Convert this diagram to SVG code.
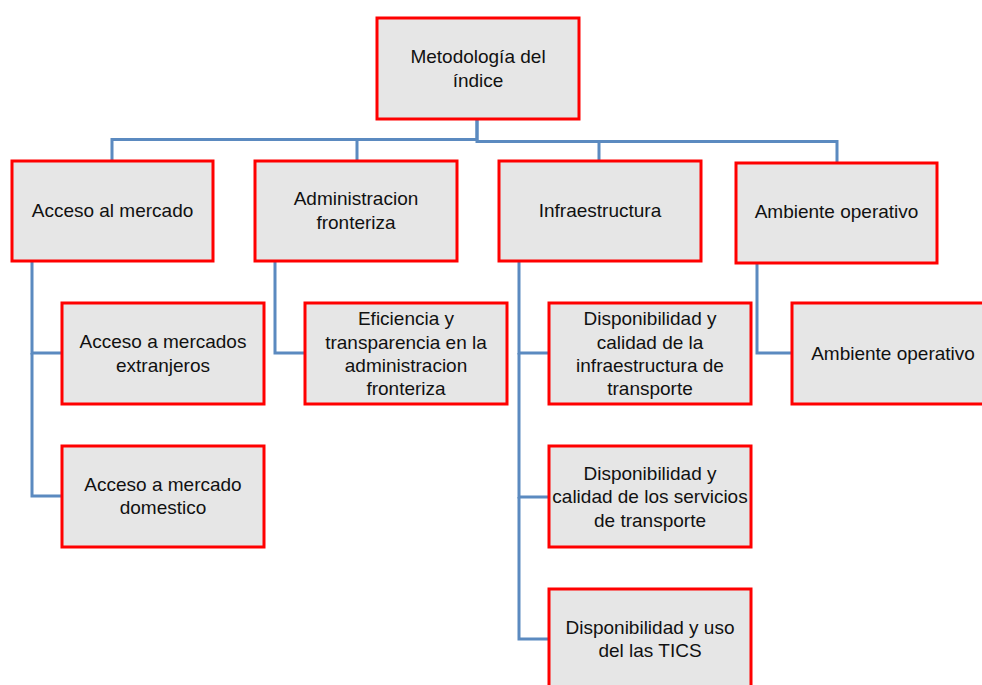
<svg xmlns="http://www.w3.org/2000/svg" width="982" height="685" viewBox="0 0 982 685">
<style>
.box{fill:#e6e6e6;stroke:#ff0000;stroke-width:3}
.lbl{font-family:"Liberation Sans",Arial,sans-serif;font-size:19px;fill:#111;text-anchor:middle}
.con{fill:none;stroke:#5b8ac0;stroke-width:3}
</style>
<rect width="982" height="685" fill="#fff"/>
<g id="connectors">
<path class="con" d="M477,119 V139.5 H112 V161"/>
<path class="con" d="M477,139.5 H357 V161"/>
<path class="con" d="M477,119 V141.5 H599 V161"/>
<path class="con" d="M599,141.5 H837 V163"/>
<path class="con" d="M32,261 V353 H62"/>
<path class="con" d="M32,353 V496 H62"/>
<path class="con" d="M275,261 V353 H305"/>
<path class="con" d="M519,261 V353 H549"/>
<path class="con" d="M519,353 V497 H549"/>
<path class="con" d="M519,497 V639 H549"/>
<path class="con" d="M757,263 V353 H792"/>
</g>
<g id="root">
<rect class="box" x="377" y="18" width="202" height="101"/>
<text class="lbl" x="478" y="63">Metodología del</text>
<text class="lbl" x="478" y="86.5">índice</text>
</g>
<g id="acceso-mercado">
<rect class="box" x="12" y="161" width="201" height="100"/>
<text class="lbl" x="112.5" y="217">Acceso al mercado</text>
</g>
<g id="administracion">
<rect class="box" x="255" y="161" width="202" height="100"/>
<text class="lbl" x="356" y="205">Administracion</text>
<text class="lbl" x="356" y="229">fronteriza</text>
</g>
<g id="infraestructura">
<rect class="box" x="499" y="161" width="202" height="100"/>
<text class="lbl" x="600" y="217">Infraestructura</text>
</g>
<g id="ambiente">
<rect class="box" x="736" y="163" width="201" height="100"/>
<text class="lbl" x="836.5" y="218">Ambiente operativo</text>
</g>
<g id="acceso-extranjeros">
<rect class="box" x="62" y="303" width="202" height="101"/>
<text class="lbl" x="163" y="348">Acceso a mercados</text>
<text class="lbl" x="163" y="372">extranjeros</text>
</g>
<g id="acceso-domestico">
<rect class="box" x="62" y="446" width="202" height="101"/>
<text class="lbl" x="163" y="491">Acceso a mercado</text>
<text class="lbl" x="163" y="514">domestico</text>
</g>
<g id="eficiencia">
<rect class="box" x="305" y="303" width="202" height="101"/>
<text class="lbl" x="406" y="325">Eficiencia y</text>
<text class="lbl" x="406" y="348.5">transparencia en la</text>
<text class="lbl" x="406" y="372">administracion</text>
<text class="lbl" x="406" y="395">fronteriza</text>
</g>
<g id="disp-infra">
<rect class="box" x="549" y="303" width="202" height="101"/>
<text class="lbl" x="650" y="325">Disponibilidad y</text>
<text class="lbl" x="650" y="348.5">calidad de la</text>
<text class="lbl" x="650" y="372">infraestructura de</text>
<text class="lbl" x="650" y="395">transporte</text>
</g>
<g id="disp-servicios">
<rect class="box" x="549" y="446" width="202" height="101"/>
<text class="lbl" x="650" y="480">Disponibilidad y</text>
<text class="lbl" x="650" y="503">calidad de los servicios</text>
<text class="lbl" x="650" y="526.5">de transporte</text>
</g>
<g id="disp-tics">
<rect class="box" x="549" y="589" width="202" height="101"/>
<text class="lbl" x="650" y="634">Disponibilidad y uso</text>
<text class="lbl" x="650" y="657">del las TICS</text>
</g>
<g id="ambiente-operativo">
<rect class="box" x="792" y="303" width="202" height="101"/>
<text class="lbl" x="893" y="360">Ambiente operativo</text>
</g>
</svg>
